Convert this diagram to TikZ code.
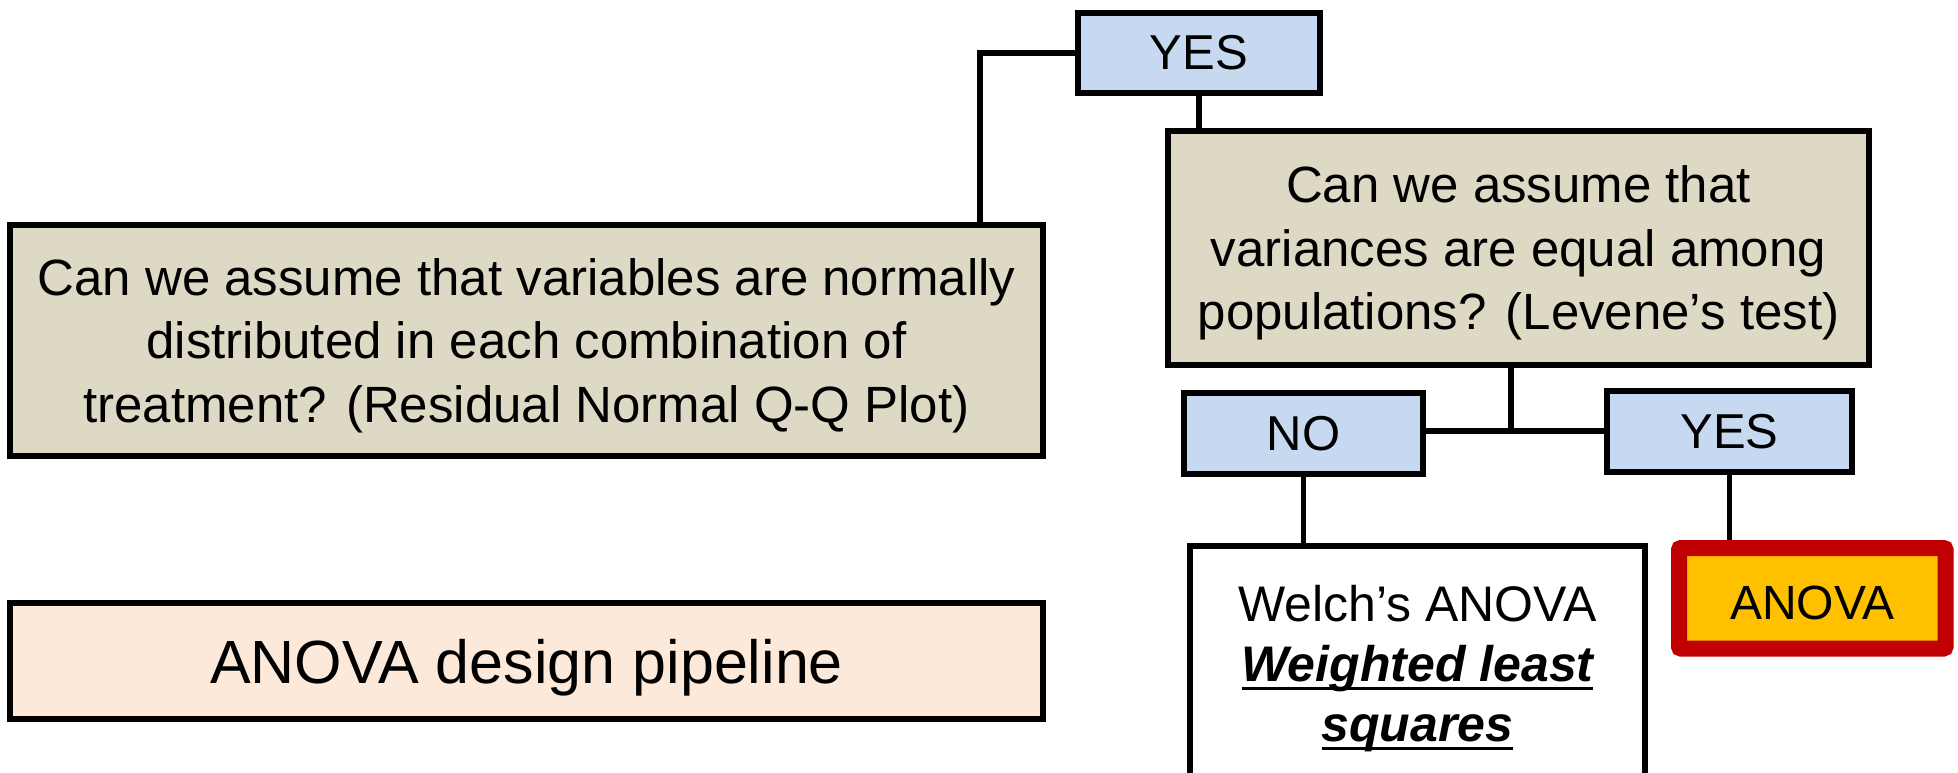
\documentclass[tikz,border=0pt]{standalone}
\usepackage{fontspec}
\setmainfont{Liberation Sans}
\definecolor{qtan}{HTML}{DDD9C4}
\definecolor{ansblue}{HTML}{C6D9F1}
\definecolor{pipefill}{HTML}{FDE9D9}
\definecolor{ayellow}{HTML}{FFC000}
\definecolor{ared}{HTML}{C00000}
\newcommand\tstrut[1]{\rule{0pt}{#1}}
\newcommand\ulbar[1]{\setbox0\hbox{#1}\rlap{\rule[-4.2pt]{\wd0}{1.4pt}}\box0}
\begin{document}
\begin{tikzpicture}[x=0.5pt,y=-0.5pt,
  box/.style={draw=black, line width=3pt, rectangle, inner sep=0pt, align=center, text=black},
  qbox/.style={box, fill=qtan, font=\fontsize{25.5}{31.8}\selectfont},
  ansbox/.style={box, fill=ansblue, font=\fontsize{24.5}{29}\selectfont},
  link/.style={draw=black, line width=2.6pt}]
\useasboundingbox (0,0) rectangle (1958,772);
\clip (0,0) rectangle (1958,772);
\fill[white] (0,0) rectangle (1958,772);

\node[qbox, minimum width=516.5pt, minimum height=115.5pt] (q1) at (526.5,340.5)
  {\tstrut{23.6pt}Can we assume that variables are normally\\distributed in each combination of\\treatment? (Residual Normal Q-Q Plot)};
\node[box, fill=pipefill, font=\fontsize{30.5}{36}\selectfont, text height=28.5pt, text depth=6.4pt,
  minimum width=516.5pt, minimum height=58pt] (pipe) at (526.5,661)
  {ANOVA design pipeline};
\node[ansbox, minimum width=121pt, minimum height=40pt] (yes1) at (1199,53) {YES};
\node[qbox, minimum width=350.5pt, minimum height=117pt] (q2) at (1518.5,248)
  {\tstrut{23.6pt}Can we assume that\\variances are equal among\\populations? (Levene’s test)};
\node[ansbox, minimum width=119.5pt, minimum height=40.5pt] (no) at (1303.5,433.5) {NO};
\node[ansbox, minimum width=122.5pt, minimum height=40.5pt] (yes2) at (1729.5,431.5) {YES};
\node[box, fill=white, font=\fontsize{25}{30}\selectfont, minimum width=227.5pt, minimum height=116pt] (welch) at (1417.5,662)
  {\tstrut{24.3pt}Welch’s ANOVA\\\textbf{\textit{\ulbar{Weighted least}}}\\\textbf{\textit{\ulbar{squares}}}};
\node[box, draw=ared, fill=ayellow, line width=8pt, rounded corners=1pt, font=\fontsize{24}{29}\selectfont,
  text height=21.2pt, text depth=0pt,
  minimum width=133.25pt, minimum height=50.25pt] (anova) at (1812.25,598.25) {ANOVA};

\coordinate (elbow) at (980,53);
\coordinate (jn) at (1511,431);
\draw[link] (yes1.west) -- (elbow) -- (elbow |- q1.north);
\draw[link] (yes1.south) -- (yes1.south |- q2.north);
\draw[link] (jn |- q2.south) -- (jn);
\draw[link] (no.east |- jn) -- (yes2.west |- jn);
\draw[link] (no.south) -- (no.south |- welch.north);
\draw[link] (yes2.south) -- (yes2.south |- anova.north);
\end{tikzpicture}
\end{document}
